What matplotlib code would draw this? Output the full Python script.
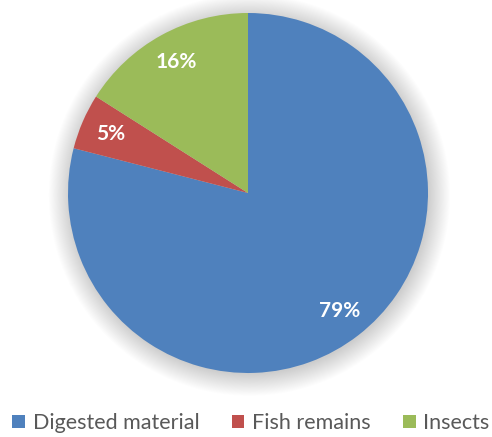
import matplotlib.pyplot as plt
from matplotlib.patches import Circle

labels = ['Digested material', 'Fish remains', 'Insects']
values = [79, 5, 16]
colors = ['#4F81BD', '#C0504D', '#9BBB59']

W, H = 492, 437
fig = plt.figure(figsize=(W / 100, H / 100), dpi=100)

# pie centre ~ (248, 193) px, radius ~180 px
cx, cy, r = 248, 193, 180
ax = fig.add_axes([(cx - r) / W, (H - cy - r) / H, 2 * r / W, 2 * r / H])
ax.set_aspect('equal')
ax.axis('off')

# soft glow shadow behind the pie
for i in range(25):
    rad = 0.99 + 0.005 * (i + 1)
    ax.add_patch(Circle((0.008, -0.012), rad, color='black', alpha=0.008,
                        lw=0, zorder=0, clip_on=False))

wedges, texts, autotexts = ax.pie(
    values, colors=colors, startangle=90, counterclock=False,
    autopct='%d%%', pctdistance=0.83, radius=1.0,
    wedgeprops=dict(linewidth=0),
    textprops=dict(color='white', fontsize=15, fontweight='bold', family='Lato'),
)
for w in wedges:
    w.set_zorder(2)
for t in autotexts:
    t.set_zorder(3)
ax.set_xlim(-1, 1)
ax.set_ylim(-1, 1)

fig.legend(wedges, labels, loc='center', bbox_to_anchor=(0.51, 1 - 423 / H),
           ncol=3, frameon=False, handlelength=0.6, handleheight=0.6,
           handletextpad=0.35, columnspacing=1.5, borderpad=0, borderaxespad=0,
           prop=dict(family='Lato', size=15.5), labelcolor='#595959')

fig.savefig('out.png', dpi=100)
